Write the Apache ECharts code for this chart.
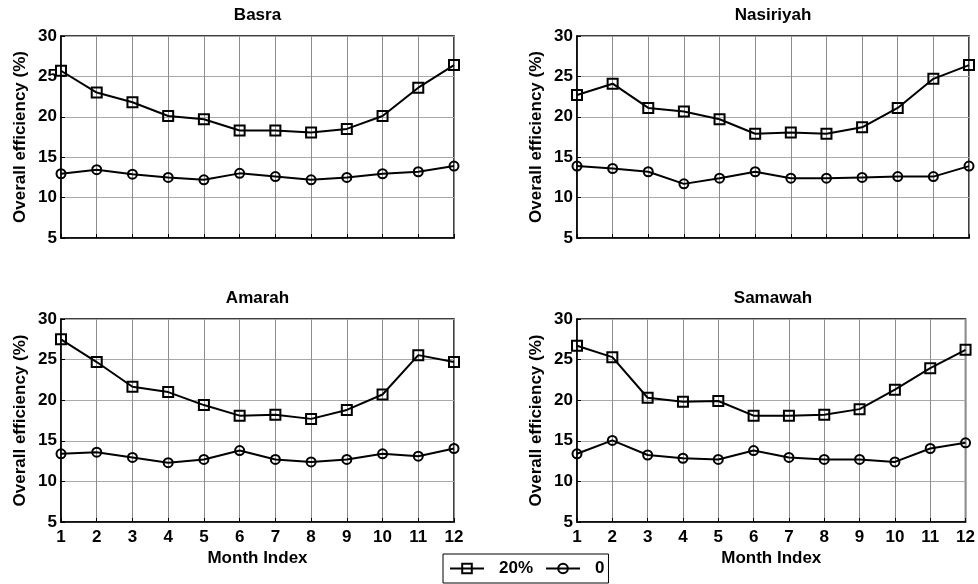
<!DOCTYPE html>
<html>
<head>
<meta charset="utf-8">
<script src="https://cdn.jsdelivr.net/npm/echarts@6/dist/echarts.min.js"></script>
<style>html,body{margin:0;padding:0;background:#fff;}#c{width:978px;height:584px;}</style>
</head>
<body>
<div id="c"></div>
<script>
const months = [1,2,3,4,5,6,7,8,9,10,11,12];
const cities = ["Basra","Nasiriyah","Amarah","Samawah"];
const seriesNames = ["20%","0"];
const basra20 = [25.7,23.0,21.8,20.1,19.7,18.3,18.3,18.05,18.5,20.1,23.6,26.4];
const basra0 = [12.95,13.45,12.9,12.5,12.2,13.0,12.6,12.2,12.5,12.95,13.2,13.9];
const nasiriyah20 = [22.7,24.1,21.1,20.65,19.7,17.9,18.05,17.9,18.7,21.1,24.7,26.4];
const nasiriyah0 = [13.9,13.6,13.2,11.7,12.4,13.2,12.4,12.4,12.5,12.6,12.6,13.9];
const amarah20 = [27.5,24.7,21.65,21.0,19.4,18.1,18.2,17.7,18.8,20.7,25.55,24.7];
const amarah0 = [13.4,13.6,12.95,12.3,12.7,13.8,12.7,12.4,12.7,13.4,13.1,14.05];
const samawah20 = [26.7,25.3,20.3,19.8,19.9,18.1,18.1,18.2,18.9,21.3,23.95,26.2];
const samawah0 = [13.4,15.05,13.25,12.85,12.7,13.8,12.95,12.7,12.7,12.4,14.05,14.75];
const yTicks = [5,10,15,20,25,30];
const xLabel = "Month Index";
const yLabel = "Overall efficiency (%)";

const data20 = [basra20, nasiriyah20, amarah20, samawah20];
const data0 = [basra0, nasiriyah0, amarah0, samawah0];

const FONT = "'Liberation Sans', Arial, sans-serif";
const grids = [
  {left:61, top:36, width:393, height:202},
  {left:577, top:36, width:392, height:202},
  {left:61, top:319, width:393, height:203},
  {left:577, top:319, width:392, height:203}
];

const option = {
  backgroundColor:'#fff',
  animation:false,
  title: cities.map((c,i)=>({
    text:c, left: grids[i].left + grids[i].width/2, top: i<2 ? 7 : 290,
    textAlign:'center', padding:0,
    textStyle:{fontFamily:FONT, fontWeight:'bold', fontSize:17, color:'#000'}
  })),
  legend: {
    left:443, top:554, padding:[6,4,6,6], itemGap:12, itemWidth:34, itemHeight:12,
    borderColor:'#000', borderWidth:1, backgroundColor:'#fff',
    data: seriesNames,
    textStyle:{fontFamily:FONT, fontWeight:'bold', fontSize:17, color:'#000', padding:[0,0,0,10]}
  },
  grid: grids.map(g=>Object.assign({show:true, borderColor:'#000', borderWidth:1.5, backgroundColor:'transparent'}, g)),
  xAxis: grids.map((g,i)=>({
    gridIndex:i, type:'value', min:months[0], max:months[months.length-1], interval:1,
    axisLine:{lineStyle:{color:'#000', width:1.5}},
    axisTick:{inside:true, length:4, lineStyle:{color:'#000'}},
    axisLabel:{show:i>=2, margin:7, color:'#000', fontFamily:FONT, fontWeight:'bold', fontSize:17},
    splitLine:{show:true, lineStyle:{color:'#8c8c8c', width:1}},
    name: i>=2 ? xLabel : '', nameLocation:'middle', nameGap:28,
    nameTextStyle:{color:'#000', fontFamily:FONT, fontWeight:'bold', fontSize:17}
  })),
  yAxis: grids.map((g,i)=>({
    gridIndex:i, type:'value', min:yTicks[0], max:yTicks[yTicks.length-1], interval:5,
    axisLine:{lineStyle:{color:'#000', width:1.5}},
    axisTick:{inside:true, length:4, lineStyle:{color:'#000'}},
    axisLabel:{margin:4, color:'#000', fontFamily:FONT, fontWeight:'bold', fontSize:17},
    splitLine:{show:true, lineStyle:{color:'#a8a8a8', width:1}},
    name: yLabel, nameLocation:'middle', nameGap:32,
    nameTextStyle:{color:'#000', fontFamily:FONT, fontWeight:'bold', fontSize:17}
  })),
  series: []
};

for (let i=0;i<4;i++){
  option.series.push({
    name: seriesNames[0], type:'line', xAxisIndex:i, yAxisIndex:i,
    data: months.map((m,k)=>[m, data20[i][k]]),
    symbol:'rect', symbolSize:10,
    lineStyle:{color:'#000', width:2},
    itemStyle:{color:'rgba(255,255,255,0)', borderColor:'#000', borderWidth:2},
    z:3
  });
  option.series.push({
    name: seriesNames[1], type:'line', xAxisIndex:i, yAxisIndex:i,
    data: months.map((m,k)=>[m, data0[i][k]]),
    symbol:'circle', symbolSize:9,
    lineStyle:{color:'#000', width:2},
    itemStyle:{color:'rgba(255,255,255,0)', borderColor:'#000', borderWidth:2},
    z:3
  });
}

const chart = echarts.init(document.getElementById('c'));
chart.setOption(option);
</script>
</body>
</html>
